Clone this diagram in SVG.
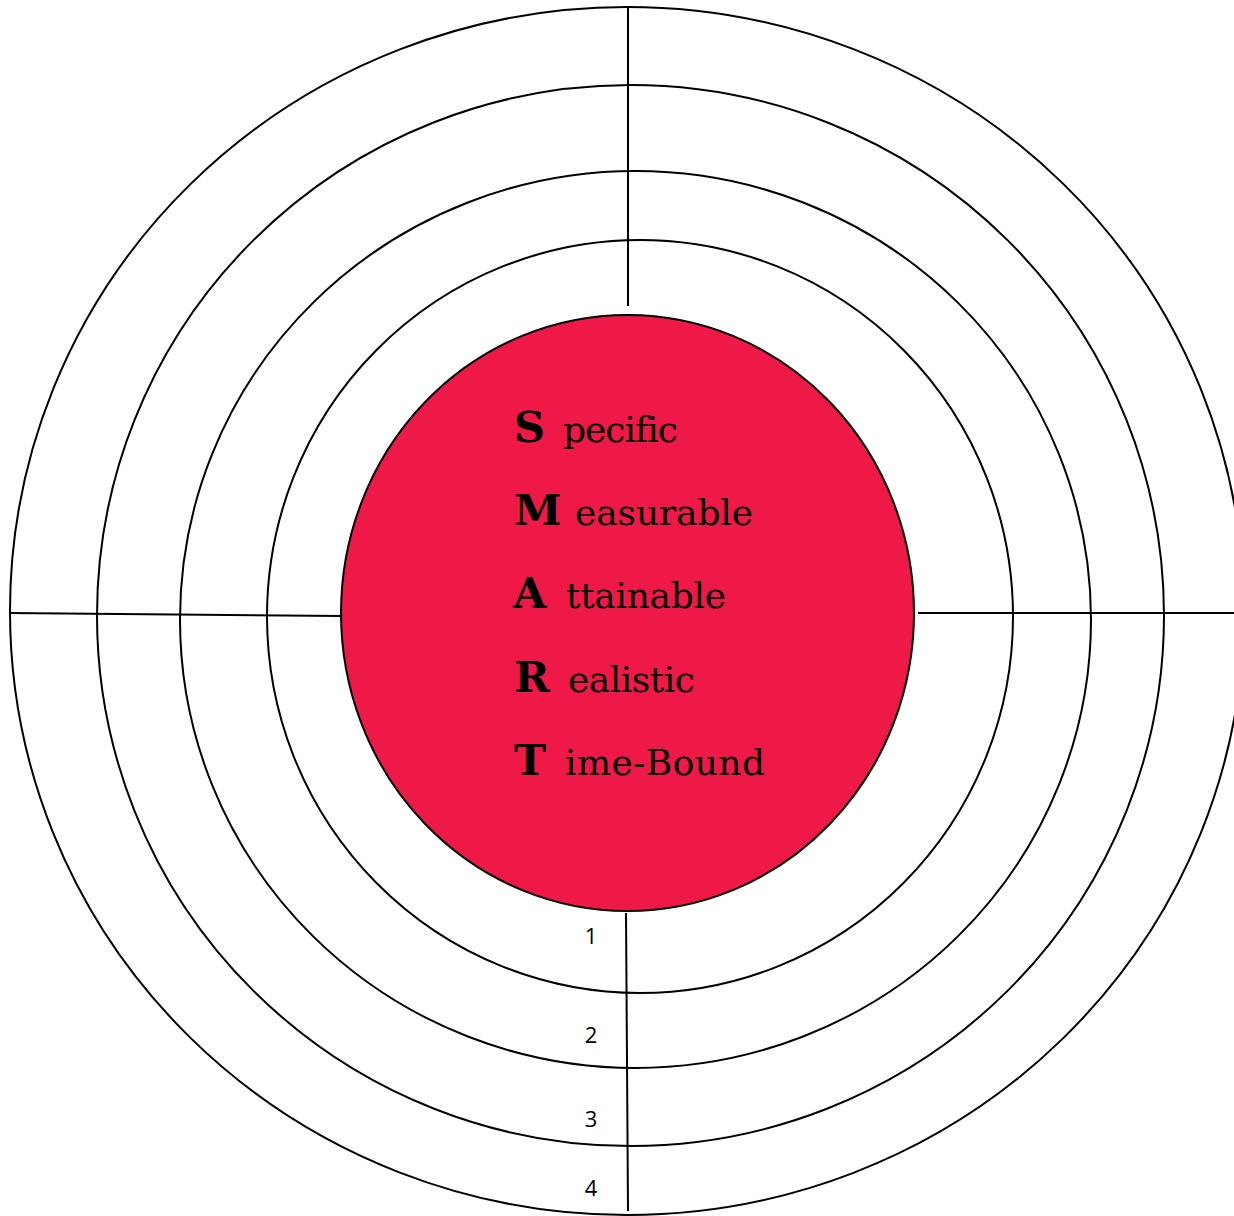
<svg xmlns="http://www.w3.org/2000/svg" width="1234" height="1216" viewBox="0 0 1234 1216">
<style>
.ring{fill:none;stroke:#000;stroke-width:2}
.line{stroke:#000;stroke-width:2;fill:none}
.big{font-family:"DejaVu Serif","Liberation Serif",serif;font-weight:bold;font-size:43px;fill:#000}
.word{font-family:"DejaVu Serif","Liberation Serif",serif;font-size:36px;fill:#000;font-variant-ligatures:none}
.num{font-family:"Open Sans","Liberation Sans",sans-serif;font-size:22px;fill:#000;text-anchor:middle}
</style>
<rect width="1234" height="1216" fill="#fff"/>
<g id="ring4"><ellipse class="ring" cx="627" cy="611" rx="617" ry="604"/></g>
<g id="ring3"><ellipse class="ring" cx="630.5" cy="615.5" rx="533.5" ry="530.5"/></g>
<g id="ring2"><ellipse class="ring" cx="635.5" cy="619.5" rx="455.5" ry="448.5"/></g>
<g id="ring1"><ellipse class="ring" cx="640" cy="616.5" rx="373" ry="376.5"/></g>
<g id="connectors">
<line class="line" x1="628" y1="8" x2="628" y2="306"/>
<line class="line" x1="626" y1="913" x2="628" y2="1211"/>
<line class="line" x1="9" y1="613" x2="341" y2="616"/>
<line class="line" x1="918" y1="613" x2="1234" y2="613"/>
</g>
<g id="center">
<ellipse cx="627.5" cy="613" rx="286.5" ry="298" fill="#EE1946" stroke="#000" stroke-width="2"/>
<text class="big" x="514" y="442">S</text>
<text class="word" x="563" y="442" textLength="115">pecific</text>
<text class="big" x="514" y="525">M</text>
<text class="word" x="575" y="525" textLength="178">easurable</text>
<text class="big" x="513" y="608">A</text>
<text class="word" x="566" y="608" textLength="160">ttainable</text>
<text class="big" x="514" y="692">R</text>
<text class="word" x="568" y="692" textLength="127">ealistic</text>
<text class="big" x="514" y="775">T</text>
<text class="word" x="565" y="775" textLength="200">ime-Bound</text>
</g>
<g id="labels">
<text class="num" x="591" y="944">1</text>
<text class="num" x="591" y="1043">2</text>
<text class="num" x="591" y="1127">3</text>
<text class="num" x="591" y="1196">4</text>
</g>
</svg>
